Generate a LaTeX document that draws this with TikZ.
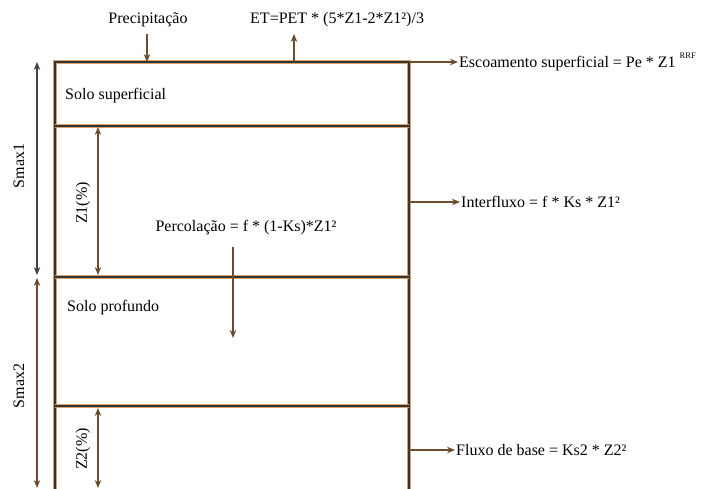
\documentclass[tikz,border=0pt]{standalone}
\usepackage{fontspec}
\setmainfont{Liberation Serif}
\usetikzlibrary{arrows.meta}

\definecolor{soil}{RGB}{108,76,46}
\definecolor{rim}{RGB}{214,160,105}

\begin{document}
\begin{tikzpicture}[x=1pt,y=-1pt,
					>={Stealth[length=8pt,width=6.5pt]},
					font=\fontsize{16}{18}\selectfont,
					flux/.style={->,draw=soil,line width=2pt},
					span/.style={<->,draw=soil,line width=2pt},
					layer/.style={draw=black!80,line width=1.6pt,
					              preaction={draw=rim,line width=3.4pt}},
					lbl/.style={inner sep=1pt},
					side/.style={inner sep=1pt,rotate=90}]

  \useasboundingbox (0,0) rectangle (715,489);

  % soil column corners
  \coordinate (tl) at (55,62);
  \coordinate (tr) at (409,62);
  \coordinate (bl) at (55,489);
  \coordinate (br) at (409,489);

  % layers
  \draw[layer] (bl) -- (tl) -- (tr) -- (br);
  \draw[layer] (55,126) -- (409,126);
  \draw[layer] (55,277) -- (409,277);
  \draw[layer] (55,406) -- (409,406);

  \node[lbl,anchor=west] (sup) at (64,96) {Solo superficial};
  \node[lbl,anchor=west] (deep) at (66,308) {Solo profundo};

  % fluxes at the top
  \node[lbl] (prec) at (148,20) {Precipitação};
  \node[lbl,anchor=west] (et) at (249,20) {ET=PET * (5*Z1-2*Z1²)/3};
  \coordinate (precin) at (147,62);
  \coordinate (etout) at (294,62);
  \coordinate (precup) at (147,34);
  \coordinate (etup) at (294,34);

  \node[lbl,anchor=west] (runoff) at (458,62) {Escoamento superficial = Pe * Z1 \raisebox{1.3ex}{\fontsize{8.5}{9}\selectfont RRF}};
  \node[lbl,anchor=west] (inter) at (460,202) {Interfluxo = f * Ks * Z1²};
  \node[lbl,anchor=west] (base) at (455,450) {Fluxo de base = Ks2 * Z2²};
  \node[lbl] (perc) at (246,228) {Percolação = f * (1-Ks)*Z1²};

  \coordinate (ir) at (409,202);
  \coordinate (fr) at (409,450);
  \coordinate (ptop) at (233,247);
  \coordinate (pend) at (233,338);

  \path[every edge/.style={draw,flux}]
    (precup) edge (precin)
    (etout) edge (etup)
    (tr) edge (runoff.west)
    (ir) edge (inter.west)
    (fr) edge (base.west)
    (ptop) edge (pend);

  % storage depths
  \node[side] (s1) at (19,166) {Smax1};
  \node[side] (s2) at (19,386) {Smax2};
  \node[side] (z1) at (83,203) {Z1(\%)};
  \node[side] (z2) at (83,449) {Z2(\%)};
  \draw[span,draw=black!75] (37,62) -- (37,275);
  \draw[span] (37,278) -- (37,488);
  \draw[span] (98,127) -- (98,275);
  \draw[span] (98,408) -- (98,488);
\end{tikzpicture}
\end{document}
